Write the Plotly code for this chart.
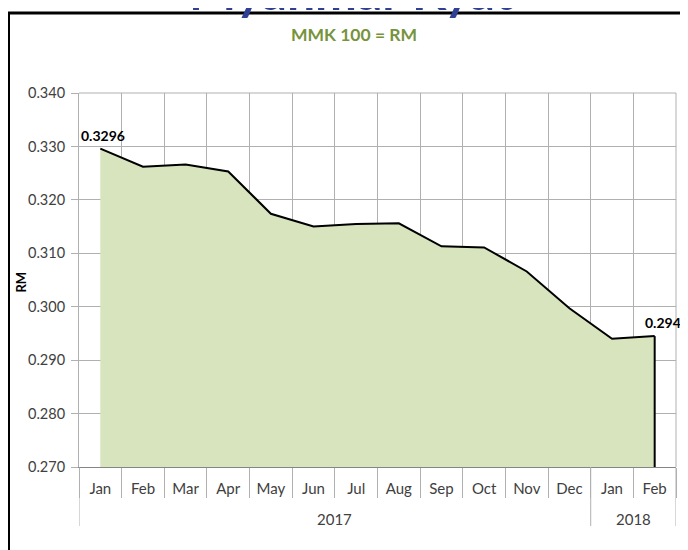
import plotly.graph_objects as go

months = ["Jan", "Feb", "Mar", "Apr", "May", "Jun", "Jul", "Aug", "Sep", "Oct", "Nov", "Dec", "Jan", "Feb"]
years = ["2017"] * 12 + ["2018"] * 2
rates = [0.3296, 0.3262, 0.3266, 0.3253, 0.3174, 0.3150, 0.3155, 0.3156, 0.3113, 0.3111, 0.3066, 0.2997, 0.2940, 0.2945]
y_min, y_max = 0.270, 0.340
y_ticks = [0.270, 0.280, 0.290, 0.300, 0.310, 0.320, 0.330, 0.340]

FONT = "Lato"
GRID = "#b0b0b0"
OFF = 8  # page body margin offset
PL, PT, PW, PH = 79, 93, 597, 374  # plot area on the page (px)
idx = list(range(len(months)))
bounds = [i - 0.5 for i in range(len(months) + 1)]

# year groups: [label, first index, last index]
groups = []
for i, yv in enumerate(years):
    if groups and groups[-1][0] == yv:
        groups[-1][2] = i
    else:
        groups.append([yv, i, i])
group_edges = [groups[0][1] - 0.5] + [g[2] + 0.5 for g in groups]


def px_x(px):
    return (px - PL) / PW


def px_y(py):
    return 1 - (py - PT) / PH


fig = go.Figure()
fig.add_trace(go.Scatter(
    x=idx, y=rates, mode="lines", fill="tozeroy",
    fillcolor="#d7e4bd", line=dict(color="black", width=2),
    hoverinfo="skip", showlegend=False))
# right edge of the area outline
fig.add_trace(go.Scatter(
    x=[idx[-1], idx[-1]], y=[rates[-1], y_min],
    mode="lines", line=dict(color="black", width=2), showlegend=False, hoverinfo="skip"))

annotations = []
# data labels for first and last points
for i, xs in [(0, 3), (len(rates) - 1, 12)]:
    annotations.append(dict(x=idx[i], y=rates[i], xref="x", yref="y", text=f"<b>{rates[i]:.4f}</b>",
                            showarrow=False, xanchor="center", yanchor="bottom", xshift=xs, yshift=3,
                            font=dict(family=FONT, size=14, color="black")))
# year labels
for label, a, b in groups:
    annotations.append(dict(x=(a + b) / 2, y=px_y(519), xref="x", yref="paper", text=label,
                            showarrow=False, xanchor="center", yanchor="middle",
                            font=dict(family=FONT, size=15, color="#404040")))
# y axis title
annotations.append(dict(text="<b>RM</b>", xref="paper", yref="paper", x=px_x(20.5), y=px_y(282),
                        xanchor="center", yanchor="middle", textangle=-90, showarrow=False,
                        font=dict(family=FONT, size=13, color="black")))
# big title (cut off at top of the picture)
annotations.append(dict(text="<b>Myanmar Kyat</b>", xref="paper", yref="paper",
                        x=px_x(351), y=px_y(23), xanchor="center", yanchor="bottom",
                        showarrow=False, font=dict(family=FONT, size=50, color="#2e3f94")))

shapes = [dict(type="rect", xref="paper", yref="paper",
               x0=px_x(8.5), x1=1.3, y0=-0.5, y1=px_y(13),
               line=dict(color="black", width=3), fillcolor="rgba(0,0,0,0)", layer="below"),
          dict(type="line", xref="paper", yref="paper", x0=1, x1=1, y0=0, y1=1,
               line=dict(color=GRID, width=1)),
          dict(type="line", xref="paper", yref="paper", x0=0, x1=1, y0=1, y1=1,
               line=dict(color=GRID, width=1))]
for e in group_edges:
    shapes.append(dict(type="line", xref="x", yref="paper", x0=e, x1=e, y0=0, y1=px_y(526),
                       line=dict(color=GRID, width=1)))

W, H = 688, 550
fig.update_layout(
    width=W, height=H,
    margin=dict(l=PL - OFF, r=W - (PL + PW - OFF), t=PT - OFF, b=H - (PT + PH - OFF), autoexpand=False),
    paper_bgcolor="white", plot_bgcolor="white",
    font=dict(family=FONT, size=15, color="#404040"),
    title=dict(text="<b>MMK 100 = RM</b>", x=(354 - OFF) / W, xanchor="center",
               y=1 - (34.5 - OFF) / H, yanchor="middle",
               font=dict(family=FONT, size=17.5, color="#77933c")),
    xaxis=dict(
        range=[bounds[0], bounds[-1]], tickvals=idx, ticktext=months,
        showgrid=False, ticks="", ticklabelstandoff=8, automargin=False,
        showline=True, linecolor="#858585", linewidth=1, zeroline=False,
        minor=dict(tickvals=bounds, showgrid=True, gridcolor=GRID, gridwidth=1,
                   ticks="outside", ticklen=30, tickcolor=GRID),
        tickfont=dict(family=FONT, size=15, color="#404040")),
    yaxis=dict(
        range=[y_min, y_max], tickvals=y_ticks, ticktext=[f"{v:.3f}" for v in y_ticks],
        showgrid=True, gridcolor=GRID, gridwidth=1, automargin=False,
        ticks="outside", ticklen=7, tickcolor=GRID, ticklabelstandoff=3,
        showline=True, linecolor=GRID, zeroline=False,
        tickfont=dict(family=FONT, size=14.5, color="#404040")),
    shapes=shapes,
    annotations=annotations,
)

fig.write_html("out.html")
